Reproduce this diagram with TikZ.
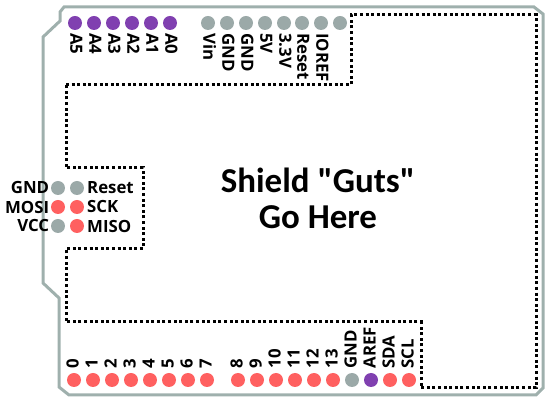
\documentclass[tikz,border=0pt]{standalone}
\usepackage{fontspec}
\setmainfont{Open Sans}
\newfontfamily\gutsfont{Carlito}
\usepackage{xcolor}
\usetikzlibrary{positioning}
\definecolor{boardgray}{HTML}{9FB0AD}
\definecolor{pingray}{HTML}{9BA9A8}
\definecolor{pinred}{HTML}{FF6060}
\definecolor{pinpurple}{HTML}{8040B0}

\begin{document}
\begin{tikzpicture}[x=0.75pt, y=-0.75pt, font=\bfseries\fontsize{12.6}{14}\selectfont,
    digital/.style={circle, fill=pinred, draw=none, inner sep=0pt, minimum size=14*0.75pt},
    analog/.style={circle, fill=pinpurple, draw=none, inner sep=0pt, minimum size=14*0.75pt},
    power/.style={circle, fill=pingray, draw=none, inner sep=0pt, minimum size=14*0.75pt},
    toptext/.style={rotate=-90, anchor=west, inner sep=0pt, text height=1.33ex, text depth=0pt},
    bottomtext/.style={rotate=90, anchor=west, inner sep=0pt, text height=1.33ex, text depth=0pt},
    lefttext/.style={anchor=east, inner sep=0pt},
    righttext/.style={anchor=west, inner sep=0pt}]

    \useasboundingbox (0,0) rectangle (554,402);

    % Board outline
    \draw[boardgray, line width=2.25pt, line join=miter]
        (64,7) -- (534,7) -- (543,14) -- (543,388) -- (536,395) -- (69,395) -- (59,387)
        -- (59,298) -- (43,283) -- (43,37) -- (60,21) -- (60,12) -- cycle;

    % Shield area
    \draw[black, line width=2.25pt, dash pattern=on 2.2pt off 2pt]
        (66,85) -- (351,85) -- (351,15) -- (536,15) -- (536,388) -- (421,388) -- (421,322)
        -- (66,322) -- (66,249) -- (143,249) -- (143,168) -- (66,168) -- cycle;

    % Top pins
    \node[analog] (a5) at (75,23)  {};
    \node[analog] (a4) at (94,23)  {};
    \node[analog] (a3) at (113,23) {};
    \node[analog] (a2) at (132,23) {};
    \node[analog] (a1) at (151,23) {};
    \node[analog] (a0) at (170,23) {};
    \node[power]  (vin)   at (208,23) {};
    \node[power]  (gnda)  at (227,23) {};
    \node[power]  (gndb)  at (246,23) {};
    \node[power]  (fivev) at (265,23) {};
    \node[power]  (threev) at (284,23) {};
    \node[power]  (reset) at (302,23) {};
    \node[power]  (ioref) at (321,23) {};
    \node[power]  (nc)    at (340,23) {};

    \node[below=2pt of a5, toptext] (a5text) {A5};
    \node[below=2pt of a4, toptext] (a4text) {A4};
    \node[below=2pt of a3, toptext] (a3text) {A3};
    \node[below=2pt of a2, toptext] (a2text) {A2};
    \node[below=2pt of a1, toptext] (a1text) {A1};
    \node[below=2pt of a0, toptext] (a0text) {A0};
    \node[below=2pt of vin, toptext] (vintext) {Vin};
    \node[below=2pt of gnda, toptext] (gndatext) {GND};
    \node[below=2pt of gndb, toptext] (gndbtext) {GND};
    \node[below=2pt of fivev, toptext] (fivevtext) {5V};
    \node[below=2pt of threev, toptext] (threevtext) {3.3V};
    \node[below=2pt of reset, toptext] (resettext) {Reset};
    \node[below=2pt of ioref, toptext] (ioreftext) {IOREF};

    % Bottom pins
    \node[digital] (d0) at (74,380)  {};
    \node[digital] (d1) at (93,380)  {};
    \node[digital] (d2) at (112,380) {};
    \node[digital] (d3) at (131,380) {};
    \node[digital] (d4) at (150,380) {};
    \node[digital] (d5) at (169,380) {};
    \node[digital] (d6) at (188,380) {};
    \node[digital] (d7) at (207,380) {};
    \node[digital] (d8) at (238,380) {};
    \node[digital] (d9) at (257,380) {};
    \node[digital] (d10) at (276,380) {};
    \node[digital] (d11) at (295,380) {};
    \node[digital] (d12) at (314,380) {};
    \node[digital] (d13) at (333,380) {};
    \node[power]   (gndc) at (352,380) {};
    \node[analog]  (aref) at (371,380) {};
    \node[digital] (sda) at (390,380) {};
    \node[digital] (scl) at (409,380) {};

    \node[above=3pt of d0, bottomtext] (d0text) {0};
    \node[above=3pt of d1, bottomtext] (d1text) {1};
    \node[above=3pt of d2, bottomtext] (d2text) {2};
    \node[above=3pt of d3, bottomtext] (d3text) {3};
    \node[above=3pt of d4, bottomtext] (d4text) {4};
    \node[above=3pt of d5, bottomtext] (d5text) {5};
    \node[above=3pt of d6, bottomtext] (d6text) {6};
    \node[above=3pt of d7, bottomtext] (d7text) {7};
    \node[above=3pt of d8, bottomtext] (d8text) {8};
    \node[above=3pt of d9, bottomtext] (d9text) {9};
    \node[above=3pt of d10, bottomtext] (d10text) {10};
    \node[above=3pt of d11, bottomtext] (d11text) {11};
    \node[above=3pt of d12, bottomtext] (d12text) {12};
    \node[above=3pt of d13, bottomtext] (d13text) {13};
    \node[above=3pt of gndc, bottomtext] (gndctext) {GND};
    \node[above=3pt of aref, bottomtext] (areftext) {AREF};
    \node[above=3pt of sda, bottomtext] (sdatext) {SDA};
    \node[above=3pt of scl, bottomtext] (scltext) {SCL};

    % ICSP pins
    \node[power]   (icspgnd)   at (58,188) {};
    \node[power]   (icspreset) at (77,188) {};
    \node[digital] (icspmosi)  at (58,207) {};
    \node[digital] (icspsck)   at (77,207) {};
    \node[power]   (icspvcc)   at (58,226) {};
    \node[digital] (icspmiso)  at (77,226) {};

    \node[left=1pt of icspgnd, lefttext]    (gndlabel)   {GND};
    \node[left=1pt of icspmosi, lefttext]   (mosilabel)  {MOSI};
    \node[left=1pt of icspvcc, lefttext]    (vcclabel)   {VCC};
    \node[right=2pt of icspreset, righttext] (resetlabel) {Reset};
    \node[right=2pt of icspsck, righttext]   (scklabel)   {SCK};
    \node[right=2pt of icspmiso, righttext]  (misolabel)  {MISO};

    % Center text
    \node[align=center, inner sep=0pt, font=\gutsfont\bfseries\fontsize{26.2}{27}\selectfont] (guts) at (318,198) {Shield "Guts"\\Go Here};

\end{tikzpicture}
\end{document}
